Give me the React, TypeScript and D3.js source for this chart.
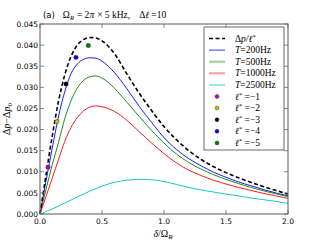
import React from "react";
import * as d3 from "d3";

// detuning grid (δ/Ω_R) for the curves
const delta = [0, 0.05, 0.1, 0.15, 0.2, 0.25, 0.3, 0.35, 0.4, 0.45, 0.5, 0.6, 0.7, 0.8, 0.9, 1.0, 1.1, 1.2, 1.3, 1.4, 1.5, 1.6, 1.7, 1.8, 1.9, 2.0];

const dpEll = [0, 0.0095, 0.0187, 0.0268, 0.033, 0.0373, 0.04, 0.0413, 0.0418, 0.0417, 0.041, 0.038, 0.0332, 0.0286, 0.0245, 0.0207, 0.0176, 0.015, 0.0129, 0.0112, 0.0098, 0.0086, 0.0075, 0.0065, 0.0056, 0.0047];
const t200 = [0, 0.008, 0.0158, 0.0232, 0.029, 0.0332, 0.0355, 0.0366, 0.037, 0.0369, 0.0362, 0.0335, 0.0297, 0.0255, 0.0217, 0.0181, 0.0153, 0.0131, 0.0114, 0.0099, 0.0087, 0.0076, 0.0067, 0.0058, 0.005, 0.0043];
const t500 = [0, 0.006, 0.0118, 0.017, 0.0226, 0.0268, 0.0298, 0.0316, 0.0325, 0.0327, 0.0322, 0.0298, 0.0265, 0.0231, 0.0198, 0.0168, 0.0142, 0.0122, 0.0106, 0.0093, 0.0082, 0.0072, 0.0063, 0.0055, 0.0048, 0.0041];
const t1000 = [0, 0.0043, 0.0086, 0.013, 0.0172, 0.0205, 0.0228, 0.0244, 0.0253, 0.0256, 0.0254, 0.0243, 0.0222, 0.0195, 0.0168, 0.0143, 0.0121, 0.0104, 0.0091, 0.008, 0.0071, 0.0063, 0.0056, 0.0049, 0.0043, 0.0037];
const t2500 = [0, 0.0006, 0.0012, 0.0019, 0.0026, 0.0033, 0.004, 0.0047, 0.0054, 0.006, 0.0066, 0.0075, 0.008, 0.0082, 0.0081, 0.0077, 0.007, 0.0063, 0.0057, 0.0052, 0.0047, 0.0043, 0.0038, 0.0034, 0.003, 0.0025];

// discrete points for l* = -1 .. -5
const ptDelta = [0.065, 0.137, 0.21, 0.29, 0.39];
const ptValue = [0.0111, 0.0219, 0.0308, 0.0371, 0.0399];
const ptLabels = ["\u22121", "\u22122", "\u22123", "\u22124", "\u22125"];
const ptColors = ["#bf00bf", "#bfbf00", "#000000", "#0000ff", "#008000"];

const tempLabels = ["200Hz", "500Hz", "1000Hz", "2500Hz"];
const tempColors = ["#0000ff", "#008000", "#ff0000", "#00bfbf"];

const xTicks = [0, 0.5, 1.0, 1.5, 2.0];
const yTicks = [0, 0.005, 0.01, 0.015, 0.02, 0.025, 0.03, 0.035, 0.04, 0.045];

const W = 320;
const H = 240;
const m = { left: 40, right: 288, top: 24, bottom: 214 };

const serif = "'Liberation Serif', 'DejaVu Serif', serif";
const sans = "'DejaVu Sans', sans-serif";

export default function App() {
  const x = d3.scaleLinear().domain([0, 2]).range([m.left, m.right]);
  const y = d3.scaleLinear().domain([0, 0.045]).range([m.bottom, m.top]);

  const line = d3
    .line<number>()
    .x((_, i) => x(delta[i]))
    .y((d) => y(d))
    .curve(d3.curveMonotoneX);

  const tempSeries = [t200, t500, t1000, t2500];
  const tick = 4;
  const lx = 209;
  const tx = 235;
  const rowY = (i: number) => 38.5 + i * 11.6;
  const fs = 9.5;

  return (
    <svg width={W} height={H} style={{ position: "absolute", left: 0, top: 0, background: "#fff" }}>
      {/* curves */}
      {tempSeries.map((s, k) => (
        <path key={k} d={line(s) || ""} fill="none" stroke={tempColors[k]} strokeWidth={0.9} />
      ))}
      <path d={line(dpEll) || ""} fill="none" stroke="#000" strokeWidth={1.6} strokeDasharray="4,2.5" />
      {ptDelta.map((d, i) => (
        <circle key={i} cx={x(d)} cy={y(ptValue[i])} r={2.2} fill={ptColors[i]} stroke="#222" strokeWidth={0.4} />
      ))}

      {/* frame */}
      <rect x={m.left} y={m.top} width={m.right - m.left} height={m.bottom - m.top} fill="none" stroke="#666" strokeWidth={1.1} />

      {/* x ticks */}
      {xTicks.map((t) => (
        <g key={t}>
          <line x1={x(t)} x2={x(t)} y1={m.bottom} y2={m.bottom - tick} stroke="#666" strokeWidth={0.8} />
          <line x1={x(t)} x2={x(t)} y1={m.top} y2={m.top + tick} stroke="#666" strokeWidth={0.8} />
          <text x={x(t)} y={m.bottom + 10} fontSize={7.5} fontFamily={sans} textAnchor="middle" fill="#000">
            {d3.format(".1f")(t)}
          </text>
        </g>
      ))}

      {/* y ticks */}
      {yTicks.map((t) => (
        <g key={t}>
          <line x1={m.left} x2={m.left + tick} y1={y(t)} y2={y(t)} stroke="#666" strokeWidth={0.8} />
          <line x1={m.right} x2={m.right - tick} y1={y(t)} y2={y(t)} stroke="#666" strokeWidth={0.8} />
          <text x={m.left - 2} y={y(t)} dy="0.35em" fontSize={7.5} fontFamily={sans} textAnchor="end" fill="#000">
            {d3.format(".3f")(t)}
          </text>
        </g>
      ))}

      {/* title */}
      <text x={43} y={18} fontSize={fs} fill="#000">
        <tspan fontFamily={sans} fontSize={8.5}>(a)</tspan>
        <tspan fontFamily={serif} dx={8}>{"\u03A9"}</tspan>
        <tspan fontFamily={serif} fontStyle="italic" fontSize={6.5} dy={2}>R</tspan>
        <tspan fontFamily={serif} dy={-2} dx={3}>{"= 2"}</tspan>
        <tspan fontFamily={serif} fontStyle="italic">{"\u03C0"}</tspan>
        <tspan fontFamily={serif} dx={3}>{"\u00D7 5 kHz,"}</tspan>
        <tspan fontFamily={serif} dx={9}>{"\u0394"}</tspan>
        <tspan fontFamily={serif} fontStyle="italic">{"\u2113"}</tspan>
        <tspan fontFamily={serif} dx={2}>{"=10"}</tspan>
      </text>

      {/* axis labels */}
      <text x={163} y={237} fontSize={10} fontFamily={serif} textAnchor="middle" fill="#000">
        <tspan fontStyle="italic">{"\u03B4"}</tspan>
        <tspan>{"/\u03A9"}</tspan>
        <tspan fontStyle="italic" fontSize={7} dy={1.5}>R</tspan>
      </text>
      <text transform={`translate(10,${(m.top + m.bottom) / 2}) rotate(-90)`} fontSize={10} fontFamily={serif} textAnchor="middle" fill="#000">
        <tspan>{"\u0394"}</tspan>
        <tspan fontStyle="italic">p</tspan>
        <tspan>{"\u2212\u0394"}</tspan>
        <tspan fontStyle="italic">p</tspan>
        <tspan fontSize={7} dy={2}>0</tspan>
      </text>

      {/* legend */}
      <rect x={204} y={27} width={80} height={123} fill="#fff" stroke="#444" strokeWidth={0.8} />
      <line x1={lx} x2={lx + 16} y1={rowY(0)} y2={rowY(0)} stroke="#000" strokeWidth={1.6} strokeDasharray="4,2.5" />
      <text x={tx} y={rowY(0)} dy="0.33em" fontSize={fs} fontFamily={serif} fill="#000">
        <tspan>{"\u0394"}</tspan>
        <tspan fontStyle="italic">{"p/\u2113"}</tspan>
        <tspan fontSize={6.5} dy={-3}>*</tspan>
      </text>
      {tempLabels.map((lab, k) => (
        <g key={lab}>
          <line x1={lx} x2={lx + 16} y1={rowY(k + 1)} y2={rowY(k + 1)} stroke={tempColors[k]} strokeWidth={k === 0 ? 1 : 2} strokeOpacity={k === 0 ? 0.8 : 0.4} />
          <text x={tx} y={rowY(k + 1)} dy="0.33em" fontSize={fs} fontFamily={serif} fill="#000">
            <tspan fontStyle="italic">T</tspan>
            <tspan>{"=" + lab}</tspan>
          </text>
        </g>
      ))}
      {ptLabels.map((lab, i) => (
        <g key={lab}>
          <circle cx={lx + 8} cy={rowY(i + 5)} r={2} fill={ptColors[i]} stroke="#222" strokeWidth={0.4} />
          <text x={tx} y={rowY(i + 5)} dy="0.33em" fontSize={fs} fontFamily={serif} fill="#000">
            <tspan fontStyle="italic">{"\u2113"}</tspan>
            <tspan fontSize={6.5} dy={-3}>*</tspan>
            <tspan dy={3}>{" =" + lab}</tspan>
          </text>
        </g>
      ))}
    </svg>
  );
}
